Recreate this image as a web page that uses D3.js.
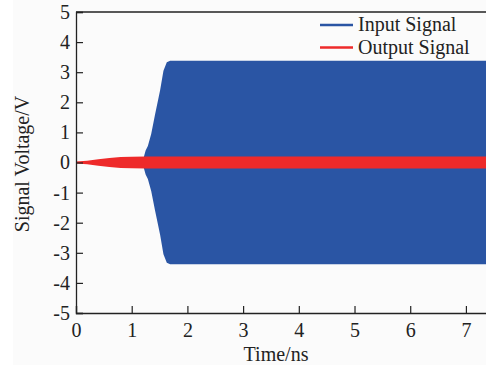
<!DOCTYPE html>
<html>
<head>
<meta charset="UTF-8">
<title>Signal Voltage</title>
<script src="https://cdn.jsdelivr.net/npm/d3@7"></script>
<style>
body { margin:0; background:#fff; font-family:"Liberation Serif","Times New Roman",serif; }
</style>
</head>
<body>
<svg id="chart" width="486" height="367"></svg>
<script>
// envelope of the input signal: [time ns, amplitude V]
var inputTime = [1.20, 1.22, 1.25, 1.29, 1.35, 1.42, 1.51, 1.57, 1.63, 1.69, 7.40];
var inputAmp  = [0.00, 0.20, 0.40, 0.55, 0.95, 1.60, 2.40, 3.05, 3.33, 3.38, 3.38];
// envelope of the output signal
var outputTime = [0.00, 0.20, 0.40, 0.60, 0.80, 1.00, 1.25, 7.40];
var outputAmp  = [0.03, 0.06, 0.11, 0.15, 0.18, 0.19, 0.20, 0.20];

var xTicks = [0, 1, 2, 3, 4, 5, 6, 7];
var yTicks = [-5, -4, -3, -2, -1, 0, 1, 2, 3, 4, 5];
var seriesNames = ["Input Signal", "Output Signal"];
var seriesColors = ["#2a55a4", "#ee2a2a"];

var svg = d3.select("#chart");

// faint page background
svg.append("rect").attr("x", 13).attr("y", 0).attr("width", 473).attr("height", 365).attr("fill", "#fbfbfb");

var x = d3.scaleLinear().domain([0, 7.4]).range([76, 488.2]);
var y = d3.scaleLinear().domain([-5, 5]).range([313, 12]);

var area = d3.area()
  .x(function(d) { return x(d[0]); })
  .y0(function(d) { return y(-d[1]); })
  .y1(function(d) { return y(d[1]); });

var inputData = inputTime.map(function(t, i) { return [t, inputAmp[i]]; });
var outputData = outputTime.map(function(t, i) { return [t, outputAmp[i]]; });

svg.append("path").datum(inputData).attr("d", area).attr("fill", seriesColors[0]);
svg.append("path").datum(outputData).attr("d", area).attr("fill", seriesColors[1]);

// top frame line
svg.append("line").attr("x1", 76).attr("x2", 486).attr("y1", 12).attr("y2", 12)
  .attr("stroke", "#222").attr("stroke-width", 1.3);

// plain hyphen for negatives, like the original
var fmt = function(d) { return String(d); };

var xAxis = svg.append("g").attr("transform", "translate(0,313)")
  .call(d3.axisBottom(x).tickValues(xTicks).tickSize(-7).tickPadding(10).tickFormat(fmt));
var yAxis = svg.append("g").attr("transform", "translate(76,0)")
  .call(d3.axisLeft(y).tickValues(yTicks).tickSize(-7).tickPadding(6).tickFormat(fmt));

[xAxis, yAxis].forEach(function(a) {
  a.select(".domain").attr("stroke", "#222").attr("stroke-width", 1.3);
  a.selectAll(".tick line").attr("stroke", "#222").attr("stroke-width", 1.2);
  a.selectAll("text").attr("fill", "#222").attr("font-size", "20px")
    .attr("font-family", "Liberation Serif, Times New Roman, serif");
});
yAxis.selectAll(".tick text").attr("x", -6);

// axis titles
svg.append("text").attr("x", 276).attr("y", 361).attr("text-anchor", "middle")
  .attr("font-size", "20px").attr("fill", "#222").text("Time/ns");
svg.append("text").attr("transform", "translate(29,164) rotate(-90)").attr("text-anchor", "middle")
  .attr("font-size", "20px").attr("fill", "#222").text("Signal Voltage/V");

// legend
var legend = svg.append("g");
seriesNames.forEach(function(name, i) {
  var ly = 25 + i * 22.5;
  legend.append("line").attr("x1", 320).attr("x2", 353).attr("y1", ly).attr("y2", ly)
    .attr("stroke", seriesColors[i]).attr("stroke-width", 2.5);
  legend.append("text").attr("x", 358).attr("y", ly + 6).attr("font-size", "20px")
    .attr("fill", "#222").text(name);
});
</script>
</body>
</html>
